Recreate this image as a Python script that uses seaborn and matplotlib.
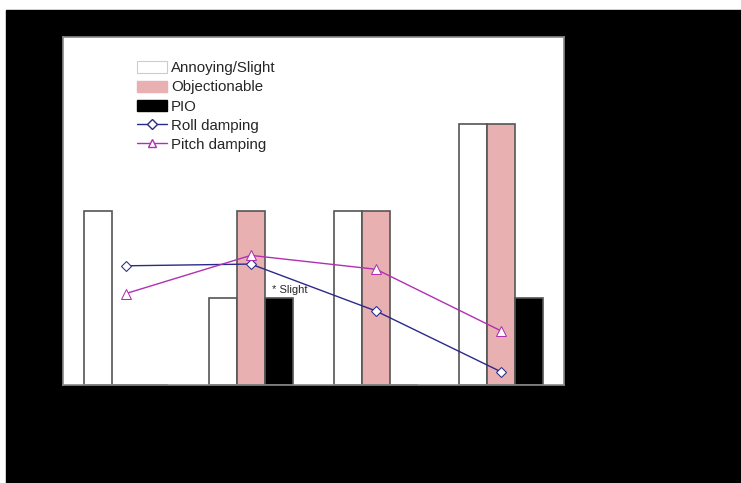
import matplotlib
matplotlib.use("Agg")
import matplotlib.pyplot as plt
import seaborn as sns
import pandas as pd
from matplotlib.patches import Rectangle, Patch
from matplotlib.lines import Line2D

# group positions along the (unlabelled) x axis
groups = ["A", "B", "C", "D"]
annoying = [2, 1, 2, 3]
objectionable = [0, 2, 2, 3]
pio = [0, 1, 0, 1]
roll_damping = [1.37, 1.39, 0.85, 0.15]
pitch_damping = [1.05, 1.49, 1.33, 0.62]

series = ["Annoying/Slight", "Objectionable", "PIO"]
rows = []
for name, vals in zip(series, [annoying, objectionable, pio]):
    for g, v in zip(groups, vals):
        rows.append({"group": g, "rating": name, "count": v})
df = pd.DataFrame(rows)

sns.set_style("white")
plt.rcParams["font.family"] = ["Liberation Sans", "DejaVu Sans"]

fig = plt.figure(figsize=(7.41, 4.83), dpi=100, facecolor="white")
# black backdrop with a thin white margin at top and left
fig.patches.append(Rectangle((6 / 741, 0), 1, 1 - 10 / 483,
                             transform=fig.transFigure, color="black", zorder=-10))
ax = fig.add_axes([63 / 741, 98 / 483, 501 / 741, 348 / 483])
ax.set_zorder(1)
ax.set_facecolor("white")

pink = "#e8b0b0"
bar_colors = {"Annoying/Slight": "white", "Objectionable": pink, "PIO": "black"}
sns.barplot(data=df, x="group", y="count", hue="rating", palette=bar_colors,
            saturation=1, width=0.672, gap=0, edgecolor="#555555",
            linewidth=1.2, legend=False, ax=ax)

xs = list(range(len(groups)))
sns.lineplot(x=xs, y=roll_damping, color="#2a2a8a", marker="D", markersize=5,
             markerfacecolor="white", markeredgecolor="#2a2a8a", linewidth=1,
             ax=ax, zorder=5)
sns.lineplot(x=xs, y=pitch_damping, color="#b030b0", marker="^", markersize=7,
             markerfacecolor="white", markeredgecolor="#b030b0", linewidth=1,
             ax=ax, zorder=5)

ax.text(1.17, 1.09, "* Slight", fontsize=8, ha="left", va="center")

ax.set_xlim(-0.5, 3.5)
ax.set_ylim(0, 4)
ax.set_xticks([])
ax.set_yticks([])
ax.set_xlabel("")
ax.set_ylabel("")
for s in ax.spines.values():
    s.set_color("#888888")
    s.set_linewidth(1.2)

handles = [
    Patch(facecolor="white", edgecolor="#cccccc", linewidth=0.8),
    Patch(facecolor=pink, edgecolor=pink),
    Patch(facecolor="black", edgecolor="black"),
    Line2D([], [], color="#2a2a8a", marker="D", markersize=5,
           markerfacecolor="white", linewidth=1),
    Line2D([], [], color="#b030b0", marker="^", markersize=6,
           markerfacecolor="white", linewidth=1),
]
ax.legend(handles, ["Annoying/Slight", "Objectionable", "PIO",
                    "Roll damping", "Pitch damping"],
          loc="upper left", bbox_to_anchor=(0.148, 0.93), frameon=False,
          fontsize=10.8, handlelength=2.0, handleheight=0.8, handletextpad=0.25,
          labelspacing=0.34, borderpad=0, borderaxespad=0)

fig.savefig("out.png", dpi=100, facecolor=fig.get_facecolor())
